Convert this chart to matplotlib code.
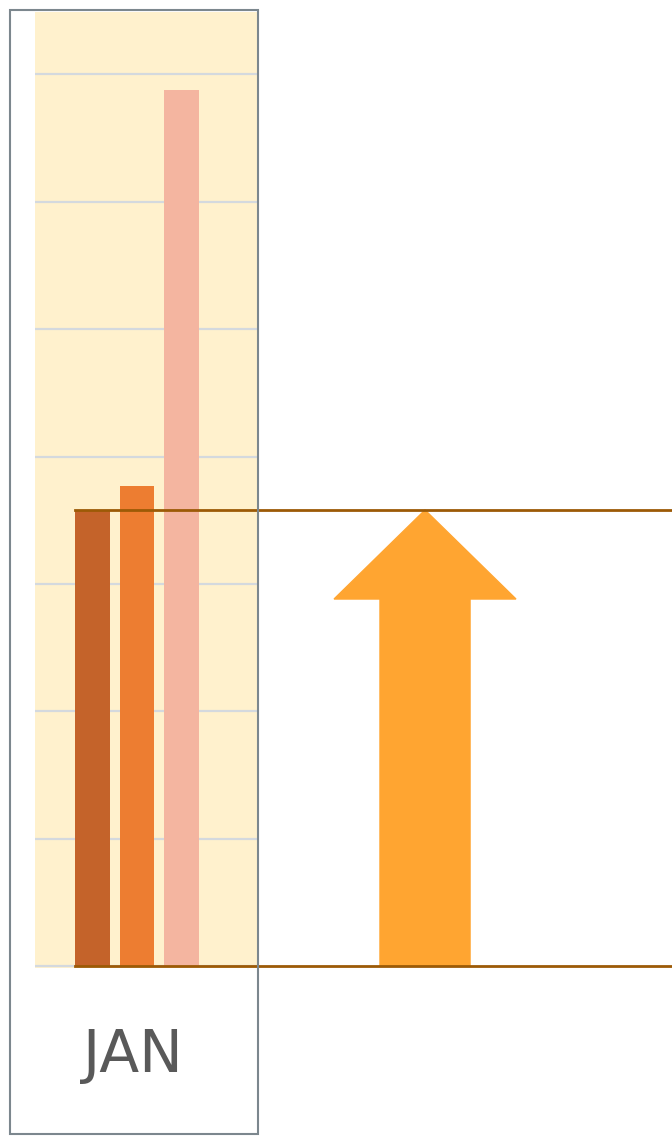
import matplotlib
matplotlib.use('Agg')
import matplotlib.pyplot as plt
from matplotlib.patches import Rectangle, Polygon

# data
category = 'JAN'
series_values = [35.8, 37.7, 68.8]
series_colors = ['#c4632a', '#ed7d31', '#f4b5a0']
grid_ticks = [0, 10, 20, 30, 40, 50, 60, 70]

W, H = 672, 1136
fig = plt.figure(figsize=(W / 100, H / 100), dpi=100)

# plot area in pixels (left, top, right, bottom)
L, T, R, B = 35, 12, 257, 968
ax = fig.add_axes([L / W, 1 - B / H, (R - L) / W, (B - T) / H])
ax.set_facecolor('#fff1cd')
for s in ax.spines.values():
    s.set_visible(False)
ax.set_xticks([])
ax.set_yticks(grid_ticks)
ax.tick_params(left=False, labelleft=False)
ax.yaxis.grid(True, color='#d4d9de', lw=1.6)
ax.set_axisbelow(True)

bw = 0.35
step = 0.45
xs = [(i - 1) * step for i in range(len(series_values))]
ax.bar(xs, series_values, width=bw, color=series_colors, zorder=2)

ax.set_xlim(-1.026, 1.207)
ax.set_ylim(-0.16, 74.9)

# reference lines at first bar's value and baseline
x0 = xs[0] - bw / 2
for yv in [series_values[0], 0]:
    ax.plot([x0, 8], [yv, yv], color='#9c5a06', lw=2, clip_on=False, zorder=5)

# up arrow to the first value
cx, sw, hw, hl = 2.897, 0.453, 0.915, 6.99
v = series_values[0]
pts = [(cx - sw, 0), (cx + sw, 0), (cx + sw, v - hl), (cx + hw, v - hl),
       (cx, v), (cx - hw, v - hl), (cx - sw, v - hl)]
ax.add_patch(Polygon(pts, closed=True, color='#ffa531', clip_on=False, zorder=4))

# outer frame
fig.patches.append(Rectangle((10 / W, 1 - 1134 / H), 248 / W, 1124 / H,
                             transform=fig.transFigure, fill=False,
                             edgecolor='#7c878e', lw=1.5, zorder=6))

fig.text(133 / W, 1 - 1055 / H, category, ha='center', va='center',
         fontsize=42, color='#595959', family='DejaVu Sans')

fig.savefig('out.png', dpi=100)
